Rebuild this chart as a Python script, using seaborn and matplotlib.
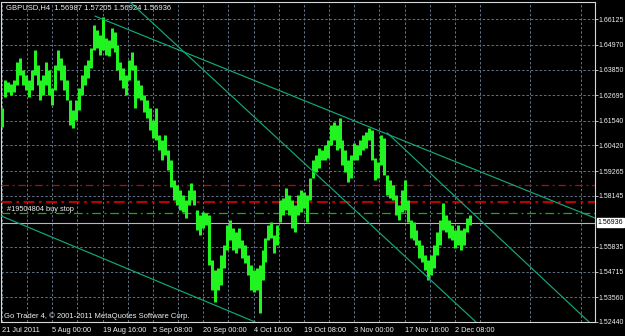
import numpy as np
import pandas as pd
import matplotlib
matplotlib.use("Agg")
import matplotlib.pyplot as plt
import seaborn as sns

# ---------------- data ----------------
header_text = "GBPUSD,H4  1.56987 1.57205 1.56924 1.56936"
footer_text = "Go Trader 4, \u00a9 2001-2011 MetaQuotes Software Corp."
order_text = "#19504804 buy stop"

bar_high = [1.6212, 1.6338, 1.6329, 1.6320, 1.6338, 1.6420, 1.6438, 1.6384, 1.6361, 1.6338,
            1.6384, 1.6474, 1.6406, 1.6338, 1.6361, 1.6420, 1.6384, 1.6302, 1.6406, 1.6474,
            1.6438, 1.6406, 1.6338, 1.6248, 1.6203, 1.6248, 1.6302, 1.6361, 1.6406, 1.6429,
            1.6483, 1.6587, 1.6564, 1.6542, 1.6623, 1.6528, 1.6519, 1.6573, 1.6555, 1.6496,
            1.6420, 1.6393, 1.6361, 1.6429, 1.6465, 1.6406, 1.6338, 1.6316, 1.6270, 1.6248,
            1.6212, 1.6157, 1.6212, 1.6090, 1.6067, 1.6090, 1.6022, 1.5977, 1.5886, 1.5864,
            1.5841, 1.5818, 1.5796, 1.5841, 1.5873, 1.5841, 1.5751, 1.5728, 1.5742, 1.5737,
            1.5728, 1.5524, 1.5479, 1.5488, 1.5547, 1.5592, 1.5683, 1.5705, 1.5669, 1.5651,
            1.5669, 1.5615, 1.5592, 1.5547, 1.5502, 1.5479, 1.5488, 1.5502, 1.5570, 1.5624,
            1.5683, 1.5696, 1.5638, 1.5683, 1.5796, 1.5805, 1.5850, 1.5818, 1.5796, 1.5773,
            1.5818, 1.5841, 1.5832, 1.5818, 1.5895, 1.5977, 1.5999, 1.6031, 1.6022, 1.6044,
            1.6067, 1.6135, 1.6148, 1.6135, 1.6166, 1.6067, 1.6022, 1.5977, 1.5999, 1.6053,
            1.6044, 1.6067, 1.6090, 1.6103, 1.6121, 1.6112, 1.5986, 1.5968, 1.6090, 1.6076,
            1.5909, 1.5886, 1.5864, 1.5818, 1.5773, 1.5841, 1.5886, 1.5796, 1.5705, 1.5696,
            1.5660, 1.5615, 1.5592, 1.5547, 1.5524, 1.5547, 1.5592, 1.5651, 1.5705, 1.5782,
            1.5728, 1.5705, 1.5683, 1.5660, 1.5683, 1.5660, 1.5669, 1.5714, 1.5728]
bar_low = [1.6126, 1.6261, 1.6284, 1.6270, 1.6284, 1.6316, 1.6361, 1.6316, 1.6293, 1.6261,
           1.6293, 1.6361, 1.6316, 1.6248, 1.6270, 1.6316, 1.6270, 1.6225, 1.6293, 1.6384,
           1.6338, 1.6293, 1.6248, 1.6135, 1.6121, 1.6157, 1.6203, 1.6270, 1.6316, 1.6347,
           1.6393, 1.6474, 1.6483, 1.6451, 1.6474, 1.6451, 1.6447, 1.6483, 1.6465, 1.6384,
           1.6338, 1.6302, 1.6270, 1.6338, 1.6384, 1.6212, 1.6257, 1.6248, 1.6193, 1.6166,
           1.6112, 1.6076, 1.6067, 1.6022, 1.5977, 1.5999, 1.5931, 1.5855, 1.5796, 1.5773,
           1.5751, 1.5742, 1.5714, 1.5773, 1.5796, 1.5773, 1.5660, 1.5638, 1.5669, 1.5683,
           1.5502, 1.5389, 1.5335, 1.5389, 1.5412, 1.5488, 1.5570, 1.5615, 1.5570, 1.5556,
           1.5579, 1.5534, 1.5511, 1.5457, 1.5389, 1.5380, 1.5389, 1.5285, 1.5434, 1.5515,
           1.5615, 1.5624, 1.5556, 1.5592, 1.5696, 1.5728, 1.5751, 1.5728, 1.5669, 1.5651,
           1.5728, 1.5742, 1.5760, 1.5696, 1.5796, 1.5895, 1.5922, 1.5940, 1.5977, 1.5977,
           1.5986, 1.6044, 1.6067, 1.6022, 1.6031, 1.5954, 1.5922, 1.5877, 1.5895, 1.5977,
           1.5977, 1.5999, 1.6022, 1.6031, 1.6067, 1.5977, 1.5886, 1.5895, 1.5954, 1.5909,
           1.5818, 1.5805, 1.5796, 1.5728, 1.5705, 1.5742, 1.5751, 1.5696, 1.5624, 1.5615,
           1.5592, 1.5534, 1.5515, 1.5479, 1.5434, 1.5457, 1.5488, 1.5547, 1.5592, 1.5660,
           1.5651, 1.5624, 1.5615, 1.5579, 1.5592, 1.5570, 1.5592, 1.5651, 1.5683]

date_labels = ["21 Jul 2011", "5 Aug 00:00", "19 Aug 16:00", "5 Sep 08:00", "20 Sep 00:00",
               "4 Oct 16:00", "19 Oct 08:00", "3 Nov 00:00", "17 Nov 16:00", "2 Dec 08:00"]
bars_per_label = 17

price_ticks = [1.66125, 1.64970, 1.63850, 1.62695, 1.61540, 1.60420, 1.59265, 1.58145,
               1.55835, 1.54715, 1.53560, 1.52440]
price_range = (1.52440, 1.66907)

current_price = 1.56936
take_profit = 1.5864
stop_loss = 1.5788
entry_price = 1.5736

# trend lines: (bar index, price) start and end
trend_x0 = [31.4, 43.2, 130.1, -0.2]
trend_p0 = [1.6627, 1.6691, 1.6099, 1.5723]
trend_x1 = [200.3, 160.1, 198.3, 85.5]
trend_p1 = [1.5714, 1.5244, 1.5244, 1.5244]

# ---------------- figure ----------------
sns.set_theme(style="dark")
plt.rcParams["font.family"] = ["Liberation Sans", "DejaVu Sans"]

W, H = 625, 336
fig = plt.figure(figsize=(W / 100, H / 100), dpi=100, facecolor="black")
ax = fig.add_axes([1.5 / W, (H - 322) / H, (595 - 1.5) / W, (322 - 2) / H])
ax.set_facecolor("black")

n = len(bar_high)
bars = pd.DataFrame({
    "bar": np.concatenate([np.arange(n), np.arange(n)]),
    "price": np.concatenate([bar_low, bar_high]),
})
sns.lineplot(data=bars, x="bar", y="price", units="bar", estimator=None, sort=False,
             color="#22f522", lw=2.15, ax=ax, zorder=4, solid_capstyle="butt")

trend = pd.DataFrame({
    "x": trend_x0 + trend_x1,
    "p": trend_p0 + trend_p1,
    "line": list(range(len(trend_x0))) * 2,
})
sns.lineplot(data=trend, x="x", y="p", units="line", estimator=None, sort=False,
             color="#14a87c", lw=0.85, ax=ax, zorder=5)

ax.axhline(take_profit, color="#d00000", lw=0.9, ls=(0, (6, 3, 1.5, 3)), zorder=3)
ax.axhline(stop_loss, color="#d00000", lw=1.3, ls=(0, (6, 2.5, 1.5, 2.5)), zorder=3)
ax.axhline(entry_price, color="#10b010", lw=0.9, ls=(0, (7, 3, 1.5, 3)), zorder=3)
ax.axhline(current_price, color="#b8b8b8", lw=0.8, zorder=3)

ax.set_xlim(-0.17, 200.3)
ax.set_ylim(*price_range)

tick_pos = np.arange(len(date_labels)) * bars_per_label
ax.set_xticks(tick_pos)
ax.set_xticklabels(date_labels)
ax.set_xticks(tick_pos[:1] + bars_per_label / 2 + np.arange(12) * bars_per_label, minor=True)
ax.set_yticks(price_ticks)
ax.set_yticklabels([f"{p:.5f}" for p in price_ticks])
ax.yaxis.tick_right()
ax.set_xlabel("")
ax.set_ylabel("")

txt_col = "#f0f0f0"
fs = 5.0
ax.tick_params(axis="x", which="major", colors="#d8d8d8", labelcolor=txt_col,
               labelsize=5.3, length=2.5, width=0.6, direction="out", pad=1)
ax.tick_params(axis="y", which="major", colors="#d8d8d8", labelcolor=txt_col,
               labelsize=fs, length=2.0, width=0.6, direction="out", pad=0.5)
ax.tick_params(axis="x", which="minor", length=0)
for lab in ax.get_xticklabels():
    lab.set_horizontalalignment("left")

ax.grid(True, which="both", color="#627286", lw=0.7, ls=(0, (2.5, 2)))
ax.set_axisbelow(True)
for s in ax.spines.values():
    s.set_color("#d8d8d8")
    s.set_linewidth(0.8)
    s.set_visible(True)

ax.annotate(f"{current_price:.5f}", xy=(1, current_price), xycoords=("axes fraction", "data"),
            xytext=(2.0, 0), textcoords="offset points", va="center", ha="left",
            fontsize=fs, color="black",
            bbox=dict(boxstyle="square,pad=0.12", fc="white", ec="white"), annotation_clip=False)

ax.annotate(order_text, xy=(0, entry_price), xycoords=("axes fraction", "data"),
            xytext=(4, 3), textcoords="offset points", va="center", ha="left",
            fontsize=5.3, color=txt_col, zorder=6)

fig.text(6 / W, 1 - 7.3 / H, header_text, fontsize=5.5, color=txt_col, va="center", ha="left")
fig.text(4 / W, 1 - 315.7 / H, footer_text, fontsize=5.5, color=txt_col, va="center", ha="left")

fig.savefig("out.png", dpi=100, facecolor="black")
